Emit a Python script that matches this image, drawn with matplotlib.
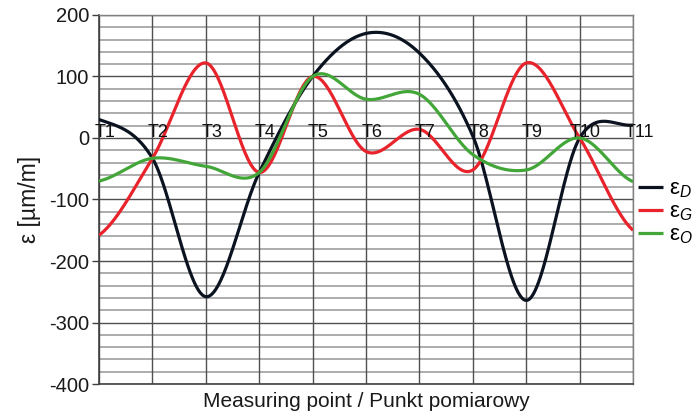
import numpy as np
import matplotlib
matplotlib.use("Agg")
import matplotlib.pyplot as plt

plt.rcParams['font.family'] = ['Liberation Sans', 'DejaVu Sans']
plt.rcParams['mathtext.fontset'] = 'custom'
plt.rcParams['mathtext.rm'] = 'Liberation Sans'
plt.rcParams['mathtext.it'] = 'Liberation Sans:italic'
plt.rcParams['axes.unicode_minus'] = False

points = ["T1", "T2", "T3", "T4", "T5", "T6", "T7", "T8", "T9", "T10", "T11"]
eps_D = [30, -33, -258, -56, 100, 170, 138, 3, -264, 0, 21]
eps_G = [-158, -33, 122, -56, 100, -22, 14, -52, 122, 0, -150]
eps_O = [-70, -33, -46, -56, 100, 63, 71, -27, -52, 0, -71]
labels = ["ε$_{D}$", "ε$_{G}$", "ε$_{O}$"]
colors = ["#0b1220", "#e8232b", "#43a638"]


def smooth(y, n=60):
    """Catmull-Rom style smoothed line through the points (like Excel's smoothed line)."""
    y = np.asarray(y, dtype=float)
    x = np.arange(len(y), dtype=float)
    yp = np.concatenate([[y[0]], y, [y[-1]]])
    xs, ys = [], []
    t = np.linspace(0, 1, n, endpoint=False)
    h00 = 2 * t**3 - 3 * t**2 + 1
    h10 = t**3 - 2 * t**2 + t
    h01 = -2 * t**3 + 3 * t**2
    h11 = t**3 - t**2
    for i in range(len(y) - 1):
        m1 = (yp[i + 2] - yp[i]) / 2
        m2 = (yp[i + 3] - yp[i + 1]) / 2
        ys.append(h00 * y[i] + h10 * m1 + h01 * y[i + 1] + h11 * m2)
        xs.append(x[i] + t)
    xs.append([x[-1]])
    ys.append([y[-1]])
    return np.concatenate(xs), np.concatenate(ys)


fig = plt.figure(figsize=(6.94, 4.17), dpi=100)
ax = fig.add_axes([0.1427, 0.0791, 0.7695, 0.885])

ax.set_xlim(0, len(points) - 1)
ax.set_ylim(-400, 200)

# grid
for v in range(-400, 201, 20):
    if v % 100 != 0:
        ax.axhline(v, color="#a6a6a6", lw=1.3, zorder=1)
for v in range(-400, 201, 100):
    ax.axhline(v, color="#505050", lw=1.0, zorder=1.1)
for i in range(len(points)):
    ax.axvline(i, color="#505050", lw=1.0, zorder=1.1)

for ys_, lab, c in zip([eps_D, eps_G, eps_O], labels, colors):
    xx, yy = smooth(ys_)
    ax.plot(xx, yy, color=c, lw=2.3, label=lab, zorder=3, solid_capstyle='butt')

# point labels
for i, p in enumerate(points):
    ax.text(i + 0.11, 2, p, ha="center", va="baseline", fontsize=13,
            color="#111111", zorder=4, clip_on=False)

ax.set_yticks(range(-400, 201, 100))
ax.set_xticks([])
ax.tick_params(axis='y', direction='out', length=5, width=1, color='#404040',
               labelsize=14.5, labelcolor='#1a1a1a', pad=2)
for s in ['top', 'right']:
    ax.spines[s].set_color('#808080')
    ax.spines[s].set_linewidth(1.0)
for s in ['left', 'bottom']:
    ax.spines[s].set_color('#404040')
    ax.spines[s].set_linewidth(1.2)

ax.set_ylabel("ε [µm/m]", fontsize=16.5, color="#1a1a1a", labelpad=6)
ax.set_xlabel("Measuring point / Punkt pomiarowy", fontsize=15, color="#1a1a1a", labelpad=6)

leg = ax.legend(loc="center left", bbox_to_anchor=(1.0, 0.465), frameon=False,
                fontsize=16, handlelength=1.15, handletextpad=0.25,
                labelspacing=0.05, borderaxespad=0.2, borderpad=0)

fig.savefig("out.png", dpi=100)
